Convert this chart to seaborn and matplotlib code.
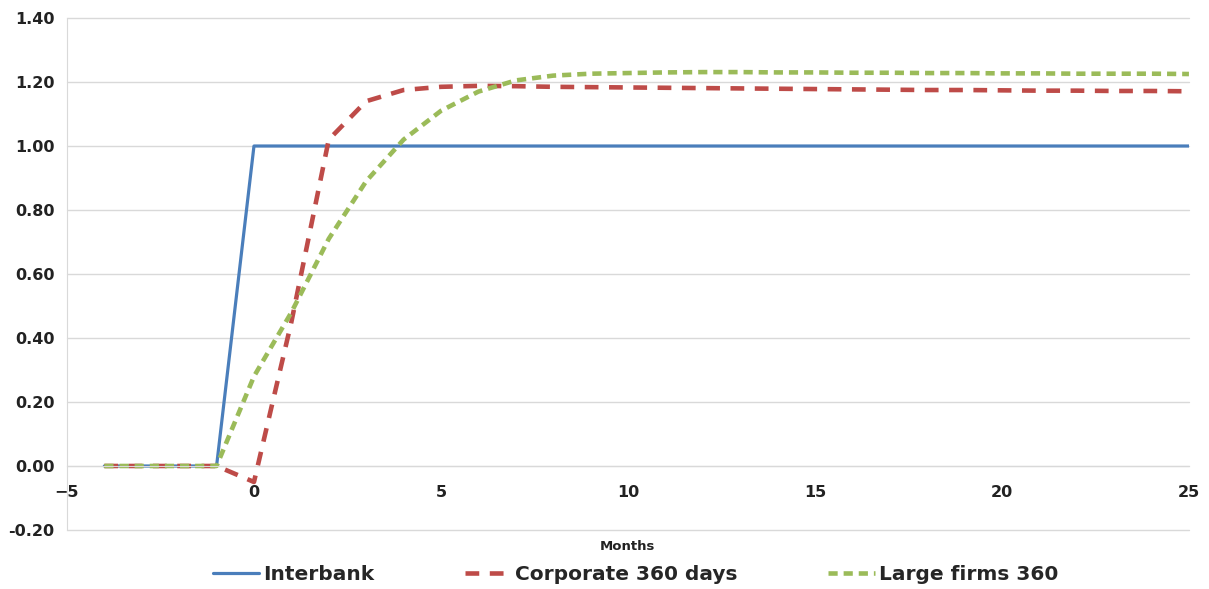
import numpy as np
import pandas as pd
import matplotlib
matplotlib.use('Agg')
import matplotlib.pyplot as plt
import seaborn as sns

# Datos (meses -4 .. 25)
meses = list(range(-4, 26))
interbank = [0, 0, 0, 0] + [1.0] * 26
corporate = [0, 0, 0, 0, -0.05, 0.45, 1.02, 1.14, 1.175, 1.185, 1.188, 1.187,
             1.185, 1.184, 1.183, 1.182, 1.181, 1.180, 1.179, 1.178, 1.177,
             1.176, 1.175, 1.175, 1.174, 1.173, 1.173, 1.172, 1.172, 1.171]
large_firms = [0, 0, 0, 0, 0.28, 0.48, 0.71, 0.89, 1.02, 1.11, 1.17, 1.205,
               1.22, 1.226, 1.228, 1.23, 1.231, 1.231, 1.23, 1.23, 1.229,
               1.229, 1.228, 1.228, 1.227, 1.227, 1.226, 1.226, 1.226, 1.225]

series = ['Interbank', 'Corporate 360 days', 'Large firms 360']
colores = ['#4A7EBB', '#BE4B48', '#9BBB59']

df = pd.DataFrame({
    'mes': meses * 3,
    'valor': interbank + corporate + large_firms,
    'serie': [s for s in series for _ in meses],
})

sns.set_style('white')
plt.rcParams['font.family'] = ['DejaVu Sans']

fig = plt.figure(figsize=(12.09, 5.89), dpi=100)
ax = fig.add_axes([0.0554, 0.1002, 0.928, 0.8692])

estilos = {
    'Interbank': dict(lw=2.3, dashes=None),
    'Corporate 360 days': dict(lw=3.3, dashes=(3.0, 2.3)),
    'Large firms 360': dict(lw=3.3, dashes=(2.0, 1.3)),
}
for s, c in zip(series, colores):
    sub = df[df['serie'] == s]
    st = estilos[s]
    sns.lineplot(data=sub, x='mes', y='valor', ax=ax, color=c,
                 linewidth=st['lw'], label=s)
    if st['dashes']:
        ax.lines[-1].set_dashes(st['dashes'])

ax.set_xlim(-5, 25)
ax.set_ylim(-0.2, 1.4)
ax.set_xticks(range(-5, 26, 5))
ax.set_yticks(np.arange(-0.2, 1.41, 0.2))
ax.yaxis.set_major_formatter(matplotlib.ticker.FormatStrFormatter('%.2f'))
ax.grid(axis='y', color='#D9D9D9', linewidth=1)
for gl in ax.get_ygridlines():
    gl.set_clip_on(False)
ax.set_axisbelow(True)

for lado in ['top', 'right']:
    ax.spines[lado].set_visible(False)
ax.spines['left'].set_color('#D9D9D9')
ax.spines['bottom'].set_color('#D9D9D9')
ax.spines['bottom'].set_position(('data', 0))
ax.tick_params(axis='both', length=5, color='#D9D9D9', labelsize=11.5, pad=4)
ax.tick_params(axis='x', pad=9)
for lab in ax.get_xticklabels() + ax.get_yticklabels():
    lab.set_fontweight('bold')
    lab.set_color('#222222')
ax.set_xlabel('')
ax.set_ylabel('')
if ax.get_legend():
    ax.get_legend().remove()

fig.text(0.519, 0.073, 'Months', ha='center', va='center', fontsize=9.5,
         fontweight='bold', color='#222222')
handles, labels = ax.get_legend_handles_labels()
fig.legend(handles, labels, loc='center', bbox_to_anchor=(0.5256, 0.025), ncol=3,
           frameon=False, prop={'weight': 'bold', 'size': 14.5},
           handlelength=2.3, columnspacing=4.5, handletextpad=0.2)

fig.savefig('out.png', dpi=100)
